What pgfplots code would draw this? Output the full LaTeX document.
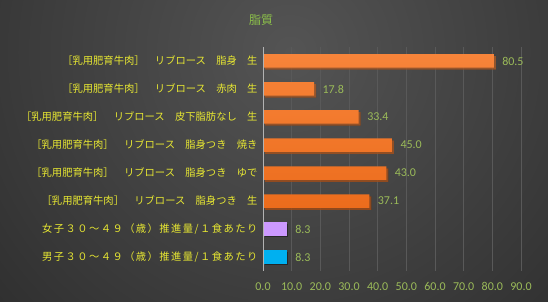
\documentclass[border=0pt]{standalone}
\usepackage{pgfplots}
\pgfplotsset{compat=1.18}
\usepackage{fontspec}
\setmainfont{Carlito}
\newfontfamily\jp{Noto Sans CJK JP}
\newfontfamily\jpw[LetterSpace=14]{Noto Sans CJK JP}
\usetikzlibrary{shadows}
\definecolor{bgin}{HTML}{545454}
\definecolor{bgout}{HTML}{181818}
\definecolor{lab}{HTML}{E8E832}
\definecolor{tick}{HTML}{9BBB59}
\definecolor{ttl}{HTML}{8CC04A}
\definecolor{orA}{HTML}{F7843A}
\definecolor{orB}{HTML}{EC6C1C}
\definecolor{pur}{HTML}{CC99FF}
\definecolor{blu}{HTML}{00B0F0}
\begin{document}
\begin{tikzpicture}
\useasboundingbox (0,0) rectangle (548pt,302pt);
\begin{scope}
\clip (0,0) rectangle (548pt,302pt);
\shade[inner color=bgin, outer color=bgout] (290pt,250pt) circle (640pt);
\end{scope}
\node[text=ttl, font=\jp\fontsize{12}{14}\selectfont] at (261pt,282pt) {脂質};
\begin{axis}[
  at={(263pt,31pt)}, anchor=south west,
  scale only axis, width=258pt, height=224pt,
  xbar, bar width=13.5pt, bar shift=0pt,
  xmin=0, xmax=90, ymin=-0.5, ymax=7.5, y dir=reverse,
  xtick={0,10,...,90},
  ytick={0,...,7},
  yticklabels={
    {［乳用肥育牛肉］　リブロース　脂身　生},
    {［乳用肥育牛肉］　リブロース　赤肉　生},
    {［乳用肥育牛肉］　リブロース　皮下脂肪なし　生},
    {［乳用肥育牛肉］　リブロース　脂身つき　焼き},
    {［乳用肥育牛肉］　リブロース　脂身つき　ゆで},
    {［乳用肥育牛肉］　リブロース　脂身つき　生},
    {\jpw 女子３０～４９（歳）推進量/１食あたり},
    {\jpw 男子３０～４９（歳）推進量/１食あたり}},
  yticklabel style={text=lab, font=\jp\fontsize{10.3}{12}\selectfont, xshift=-2pt},
  xticklabel style={text=tick, font=\fontsize{12}{14}\selectfont, yshift=-8pt},
  /pgf/number format/assume math mode=true,
  xticklabel={\pgfmathprintnumber[fixed,fixed zerofill,precision=1]{\tick}},
  major tick length=0pt,
  axis line style={draw=none},
  xmajorgrids, major grid style={draw=gray!70!black, line width=0.5pt},
  nodes near coords,
  nodes near coords style={text=tick, font=\fontsize{12}{14}\selectfont, xshift=5pt, /pgf/number format/.cd, fixed, fixed zerofill, precision=1, assume math mode=true},
  clip=false,
]
\addplot[draw=none, top color=orA, bottom color=orB, drop shadow={shadow xshift=2pt, shadow yshift=-2pt, opacity=0.55, fill=black}] coordinates {(80.5,0) (17.8,1) (33.4,2) (45.0,3) (43.0,4) (37.1,5)};
\addplot[draw=none, fill=pur, drop shadow={shadow xshift=1.5pt, shadow yshift=-1.5pt, opacity=0.4, fill=black}] coordinates {(8.3,6)};
\addplot[draw=none, fill=blu, drop shadow={shadow xshift=1.5pt, shadow yshift=-1.5pt, opacity=0.4, fill=black}] coordinates {(8.3,7)};
\draw[gray!60!white, line width=0.6pt] (axis cs:0,-0.5) -- (axis cs:0,7.5);
\end{axis}
\end{tikzpicture}
\end{document}
